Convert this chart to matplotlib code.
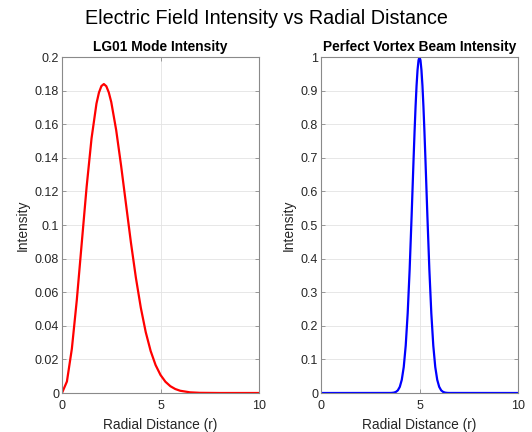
import matplotlib
matplotlib.use('Agg')
import matplotlib.pyplot as plt

# LG01 mode intensity
lg_r = [0, 0.25, 0.5, 0.75, 1.0, 1.25, 1.5, 1.75, 1.875, 2.0, 2.125, 2.25, 2.375,
        2.5, 2.75, 3.0, 3.25, 3.5, 3.75, 4.0, 4.25, 4.5, 4.75, 5.0, 5.25, 5.5,
        5.75, 6.0, 6.5, 7.0, 8.0, 9.0, 10.0]
lg_I = [0, 0.00685, 0.02628, 0.05516, 0.08897, 0.1227, 0.1516, 0.1723, 0.1788,
        0.1827, 0.1839, 0.1826, 0.1789, 0.1732, 0.1565, 0.1353, 0.1123, 0.08944,
        0.06866, 0.05079, 0.03625, 0.025, 0.01665, 0.01074, 0.0067, 0.00405,
        0.00237, 0.00134, 0.00039, 0.0001, 0, 0, 0]

# perfect vortex beam ring
pv_r = [0, 3.5, 3.6, 3.7, 3.8, 3.9, 4.0, 4.1, 4.2, 4.3, 4.4, 4.5, 4.6, 4.7, 4.75,
        4.8, 4.85, 4.9, 4.95, 5.0, 5.05, 5.1, 5.15, 5.2, 5.25, 5.3, 5.4, 5.5, 5.6,
        5.7, 5.8, 5.9, 6.0, 6.1, 6.2, 6.3, 6.4, 6.5, 10.0]
pv_I = [0, 0.00012, 0.00039, 0.00116, 0.00315, 0.0079, 0.0183, 0.0392, 0.0773,
        0.1409, 0.2369, 0.3679, 0.5273, 0.6977, 0.7788, 0.8521, 0.9139, 0.9608,
        0.990, 1.0, 0.990, 0.9608, 0.9139, 0.8521, 0.7788, 0.6977, 0.5273, 0.3679,
        0.2369, 0.1409, 0.0773, 0.0392, 0.0183, 0.0079, 0.00315, 0.00116, 0.00039,
        0.00012, 0]

lg_yticks = [0, 0.02, 0.04, 0.06, 0.08, 0.1, 0.12, 0.14, 0.16, 0.18, 0.2]
lg_ylabels = ['0', '0.02', '0.04', '0.06', '0.08', '0.1', '0.12', '0.14', '0.16', '0.18', '0.2']
pv_yticks = [0, 0.1, 0.2, 0.3, 0.4, 0.5, 0.6, 0.7, 0.8, 0.9, 1]
pv_ylabels = ['0', '0.1', '0.2', '0.3', '0.4', '0.5', '0.6', '0.7', '0.8', '0.9', '1']
xticks = [0, 5, 10]

plt.rcParams['font.family'] = ['Liberation Sans', 'DejaVu Sans']

fig = plt.figure(figsize=(5.32, 4.32), dpi=100)
fig.text(0.5, 0.957, 'Electric Field Intensity vs Radial Distance',
         ha='center', va='center', fontsize=14.2, color='black')

ax1 = fig.add_axes([62 / 532, 39 / 432, 197 / 532, 336 / 432])
ax2 = fig.add_axes([321 / 532, 39 / 432, 197 / 532, 336 / 432])

panels = [
    (ax1, lg_r, lg_I, 'red', 'LG01 Mode Intensity', 0.2, lg_yticks, lg_ylabels),
    (ax2, pv_r, pv_I, 'blue', 'Perfect Vortex Beam Intensity', 1, pv_yticks, pv_ylabels),
]

for ax, r, I, col, title, ymax, yt, yl in panels:
    ax.plot(r, I, color=col, lw=1.6, solid_capstyle='butt')
    ax.set_xlim(0, 10)
    ax.set_ylim(0, ymax)
    ax.set_xticks(xticks)
    ax.set_xticklabels([str(t) for t in xticks])
    ax.set_yticks(yt)
    ax.set_yticklabels(yl)
    ax.grid(True, color='#e3e3e3', lw=0.6)
    ax.set_axisbelow(True)
    for s in ax.spines.values():
        s.set_color('#8a8a8a')
        s.set_linewidth(0.8)
    ax.tick_params(direction='in', length=3, width=0.6, color='#8a8a8a',
                   labelcolor='#262626', labelsize=9, pad=2,
                   top=True, right=True)
    ax.tick_params(axis='x', pad=5)
    ax.set_title(title, fontsize=9.9, fontweight='bold', color='black', pad=4)
    ax.set_xlabel('Radial Distance (r)', fontsize=9.9, color='#262626', labelpad=4)
    ax.set_ylabel('Intensity', fontsize=9.9, color='#262626', labelpad=4)

fig.savefig('out.png', dpi=100)
